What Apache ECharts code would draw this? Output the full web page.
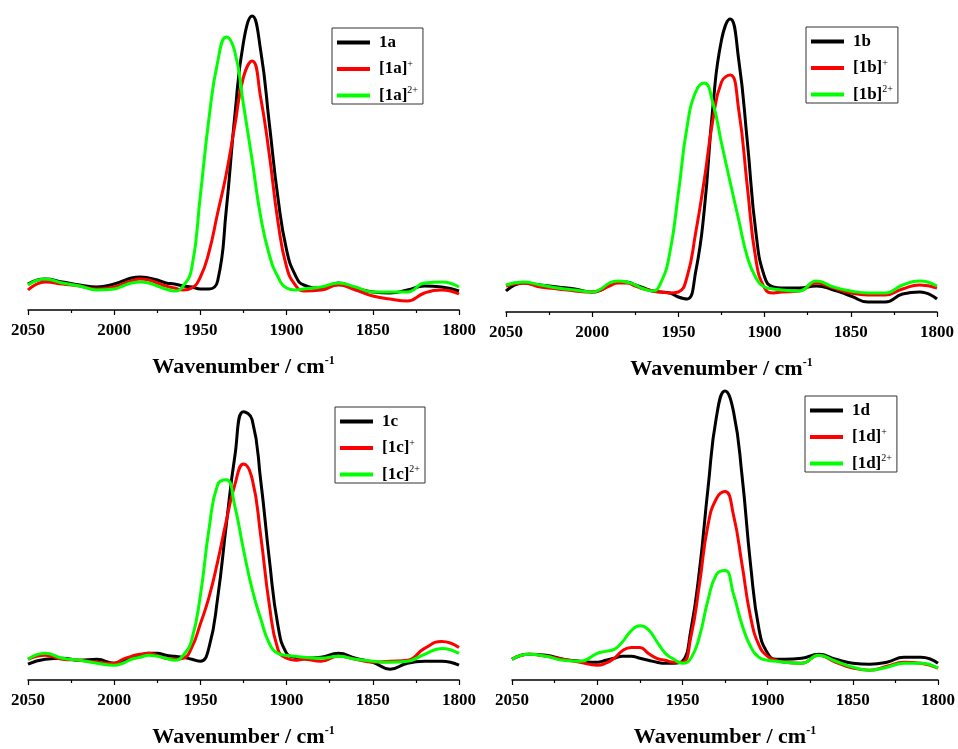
<!DOCTYPE html>
<html>
<head>
<meta charset="utf-8">
<script src="https://cdn.jsdelivr.net/npm/echarts@6/dist/echarts.min.js"></script>
<style>
  html, body { margin: 0; padding: 0; background: #fff; }
  #chart { width: 958px; height: 749px; }
</style>
</head>
<body>
<div id="chart"></div>
<script>
// wavenumber grid (cm-1), shared by every trace
var wavenumbers = [2050, 2040, 2030, 2020, 2010, 2000,
  1995, 1990, 1985, 1980, 1975, 1970, 1965, 1960, 1955, 1950, 1945, 1940, 1935, 1930, 1925,
  1920, 1915, 1910, 1905, 1900, 1895, 1890,
  1880, 1870, 1860, 1850, 1840, 1830, 1820, 1810, 1800];
var xTicks = [2050, 2000, 1950, 1900, 1850, 1800];

// absorbance, arbitrary units
var a0 = [26, 31, 28, 25, 23, 26,
  29, 32, 33, 32, 30, 27, 26, 24, 23, 21, 21, 29, 100, 195, 268,
  294, 259, 186, 112, 60, 35, 25,
  22, 27, 22, 18, 17, 20, 24, 23, 19];
var a1 = [20, 28, 26, 24, 21, 23,
  26, 29, 31, 30, 27, 24, 22, 20, 22, 33, 58, 97, 136, 185, 233,
  249, 212, 155, 88, 43, 25, 19,
  20, 25, 20, 14, 11, 9, 17, 20, 16];
var a2 = [25, 31, 27, 24, 20, 21,
  24, 27, 28, 27, 24, 21, 19, 24, 42, 115, 192, 248, 273, 258, 205,
  150, 93, 55, 33, 22, 20, 21,
  23, 27, 23, 18, 18, 18, 27, 28, 23];

var b0 = [21, 29, 27, 25, 23, 20,
  22, 27, 30, 30, 27, 24, 21, 20, 19, 15, 13, 40, 102, 205, 272,
  293, 252, 170, 79, 35, 25, 24,
  24, 26, 22, 16, 10, 10, 18, 20, 13];
var b1 = [26, 29, 25, 23, 21, 20,
  22, 26, 29, 29, 26, 23, 21, 20, 19, 20, 35, 79, 132, 192, 230,
  237, 202, 125, 52, 24, 19, 20,
  21, 29, 24, 19, 17, 17, 23, 27, 24];
var b2 = [27, 30, 27, 24, 22, 20,
  23, 29, 31, 30, 27, 23, 21, 30, 59, 119, 185, 220, 229, 209, 169,
  130, 92, 55, 34, 25, 23, 22,
  21, 31, 25, 21, 19, 19, 27, 31, 26];

var c0 = [16, 21, 22, 20, 21, 17,
  20, 23, 25, 27, 27, 25, 24, 23, 21, 19, 33, 83, 157, 227, 272,
  264, 202, 122, 55, 27, 23, 22,
  23, 27, 22, 18, 11, 17, 19, 19, 15];
var c1 = [21, 25, 21, 20, 18, 17,
  21, 24, 26, 27, 25, 22, 21, 22, 33, 57, 84, 120, 161, 198, 219,
  204, 146, 76, 31, 22, 20, 21,
  19, 24, 21, 18, 19, 20, 32, 39, 33];
var c2 = [21, 27, 22, 20, 17, 15,
  17, 21, 23, 25, 24, 22, 20, 25, 41, 86, 153, 198, 203, 176, 132,
  92, 62, 37, 27, 25, 24, 23,
  22, 24, 21, 19, 18, 19, 26, 32, 27];

var d0 = [21, 26, 25, 21, 19, 18,
  20, 22, 24, 24, 22, 20, 18, 17, 17, 19, 51, 111, 194, 267, 293,
  272, 207, 117, 51, 27, 21, 21,
  22, 26, 21, 17, 16, 18, 23, 23, 17];
var d1 = [21, 26, 24, 21, 18, 15,
  17, 22, 30, 33, 33, 27, 22, 20, 18, 18, 44, 97, 157, 184, 191,
  167, 117, 64, 35, 24, 20, 18,
  17, 25, 18, 12, 10, 14, 18, 17, 12];
var d2 = [21, 26, 24, 20, 19, 27,
  29, 31, 39, 50, 55, 51, 39, 27, 21, 17, 22, 44, 81, 107, 111,
  87, 56, 34, 23, 20, 19, 18,
  17, 25, 19, 13, 10, 13, 17, 17, 12];

var colors = ['#000000', '#ff0000', '#00ff00'];
var serif = '"Liberation Serif", "Times New Roman", serif';

var panels = [
  { id: '1a', traces: [a0, a1, a2], grid: { left: 28, top: 10, width: 431, height: 300 }, legend: { left: 332, top: 28 } },
  { id: '1b', traces: [b0, b1, b2], grid: { left: 506, top: 12, width: 431, height: 300 }, legend: { left: 806, top: 27 } },
  { id: '1c', traces: [c0, c1, c2], grid: { left: 28, top: 384, width: 431, height: 300 }, legend: { left: 335, top: 407 } },
  { id: '1d', traces: [d0, d1, d2], grid: { left: 512, top: 384, width: 432, height: 300 }, legend: { left: 805, top: 396 } }
];

function legendText(name) {
  var m = name.match(/^(\[.*\])(.*)$/);
  if (!m) return '{m|' + name + '}';
  return '{m|' + m[1] + '}{s|' + m[2] + '}';
}

var grids = [], xAxes = [], yAxes = [], series = [], legends = [];

panels.forEach(function (p, i) {
  var names = [p.id, '[' + p.id + ']+', '[' + p.id + ']2+'];
  grids.push(p.grid);
  xAxes.push({
    gridIndex: i,
    type: 'value',
    inverse: true,
    min: 1800,
    max: 2050,
    interval: 50,
    axisLine: { lineStyle: { color: '#000', width: 1.5 } },
    axisTick: { length: 5, lineStyle: { color: '#000', width: 1.2 } },
    minorTick: { show: true, splitNumber: 2, length: 3, lineStyle: { color: '#000', width: 1.2 } },
    splitLine: { show: false },
    axisLabel: {
      margin: 12, color: '#000', fontFamily: serif, fontWeight: 'bold', fontSize: 17,
      formatter: function (v) { return xTicks.indexOf(v) >= 0 ? String(v) : ''; }
    },
    name: '{t|Wavenumber / cm}{s|-1}',
    nameLocation: 'middle',
    nameGap: 45,
    nameTextStyle: {
      rich: {
        t: { fontFamily: serif, fontWeight: 'bold', fontSize: 22, color: '#000', lineHeight: 24 },
        s: { fontFamily: serif, fontWeight: 'bold', fontSize: 12, color: '#000', lineHeight: 12, verticalAlign: 'top' }
      }
    }
  });
  yAxes.push({ gridIndex: i, type: 'value', min: 0, max: 300, show: false });

  p.traces.forEach(function (vals, k) {
    series.push({
      name: names[k],
      type: 'line',
      xAxisIndex: i,
      yAxisIndex: i,
      data: wavenumbers.map(function (w, j) { return [w, vals[j]]; }),
      showSymbol: false,
      symbol: 'none',
      smooth: 0.5,
      itemStyle: { color: colors[k] },
      lineStyle: { color: colors[k], width: 3 },
      z: 2 + k
    });
  });

  legends.push({
    data: names,
    orient: 'vertical',
    left: p.legend.left,
    top: p.legend.top,
    icon: 'rect',
    itemWidth: 33,
    itemHeight: 4,
    itemGap: 8,
    padding: [6, 5, 0, 5],
    borderColor: '#333',
    borderWidth: 1,
    selectedMode: false,
    formatter: legendText,
    textStyle: {
      color: '#000',
      rich: {
        m: { fontFamily: serif, fontWeight: 'bold', fontSize: 17, color: '#000', lineHeight: 20, padding: [0, 0, 0, 4] },
        s: { fontFamily: serif, fontSize: 10, color: '#000', lineHeight: 11, verticalAlign: 'top' }
      }
    }
  });
});

var chart = echarts.init(document.getElementById('chart'));
chart.setOption({
  animation: false,
  backgroundColor: '#fff',
  grid: grids,
  xAxis: xAxes,
  yAxis: yAxes,
  legend: legends,
  series: series
});
</script>
</body>
</html>
